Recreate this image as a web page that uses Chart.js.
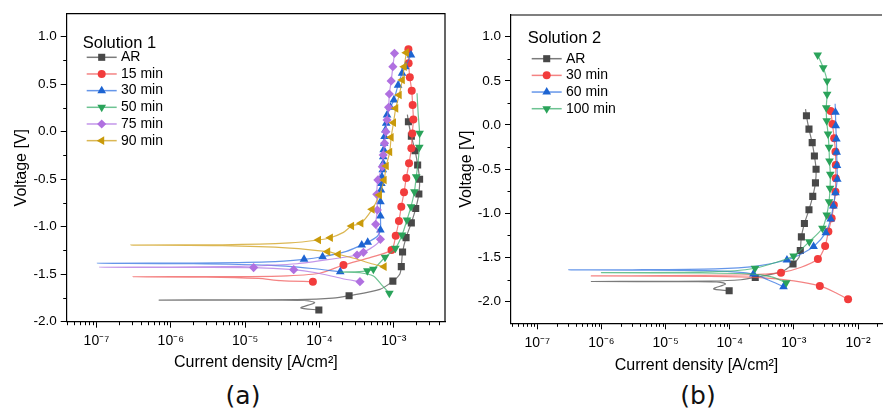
<!DOCTYPE html>
<html>
<head>
<meta charset="utf-8">
<title>Polarization curves</title>
<script src="https://cdn.jsdelivr.net/npm/chart.js"></script>
<style>
  html, body { margin: 0; padding: 0; background: #fff; }
  body { position: relative; width: 887px; height: 412px; overflow: hidden; }
  canvas { position: absolute; top: 0; }
  #chartA { left: 0; }
  #chartB { left: 445px; }
  .tag { position: absolute; top: 381px; width: 100px; text-align: center; font: 25px "DejaVu Sans", sans-serif; line-height: 30px; color: #111; }
</style>
</head>
<body>
<canvas id="chartA" width="450" height="380"></canvas>
<canvas id="chartB" width="442" height="380"></canvas>
<div class="tag" style="left:193px">(a)</div>
<div class="tag" style="left:648px">(b)</div>
<script>
// axis ticks
const xTicks = [1e-7, 1e-6, 1e-5, 1e-4, 1e-3, 1e-2];
const xTickLabels = ['10⁻⁷', '10⁻⁶', '10⁻⁵', '10⁻⁴', '10⁻³', '10⁻²'];
const yTicks = [-2, -1.5, -1, -0.5, 0, 0.5, 1];
const yTickLabels = ['-2.0', '-1.5', '-1.0', '-0.5', '0.0', '0.5', '1.0'];

const labels1 = ['AR', '15 min', '30 min', '50 min', '75 min', '90 min'];
const labels2 = ['AR', '30 min', '60 min', '100 min'];

// [current density A/cm2, voltage V, symbol shown]
// AR is the same as-received curve in both panels
const arRows = [
  [9.8e-5, -1.877, 1], [5.6e-5, -1.855, 0], [8.6e-5, -1.80, 0], [6.2e-5, -1.775, 0],
  [1.5e-5, -1.773, 0], [7e-7, -1.772, 0], [5e-6, -1.770, 0], [5e-5, -1.767, 0],
  [1.5e-4, -1.752, 0], [2.5e-4, -1.726, 1], [6.5e-4, -1.66, 0], [9.7e-4, -1.573, 1],
  [1.2e-3, -1.50, 0], [1.26e-3, -1.42, 1], [1.31e-3, -1.267, 1], [1.46e-3, -1.115, 1],
  [1.72e-3, -0.96, 1], [1.97e-3, -0.808, 1], [2.17e-3, -0.655, 1], [2.22e-3, -0.501, 1],
  [2.09e-3, -0.351, 1], [1.93e-3, -0.2, 1], [1.72e-3, -0.047, 1], [1.57e-3, 0.104, 1],
  [1.52e-3, 0.18, 0]
];

// Solution 1
const s1min15 = [
  [8.15e-5, -1.579, 1], [3e-5, -1.567, 0], [1.5e-5, -1.545, 0], [3e-6, -1.53, 0],
  [3.1e-7, -1.527, 0], [3e-6, -1.526, 0], [3e-5, -1.52, 0], [1e-4, -1.49, 0],
  [2.1e-4, -1.403, 1], [5e-4, -1.32, 0], [9.3e-4, -1.245, 1], [1.06e-3, -1.095, 1],
  [1.17e-3, -0.94, 1], [1.26e-3, -0.79, 1], [1.37e-3, -0.638, 1], [1.47e-3, -0.487, 1],
  [1.6e-3, -0.333, 1], [1.72e-3, -0.175, 1], [1.77e-3, -0.02, 1], [1.83e-3, 0.128, 1],
  [1.79e-3, 0.28, 1], [1.74e-3, 0.43, 1], [1.64e-3, 0.573, 1], [1.58e-3, 0.72, 1],
  [1.57e-3, 0.868, 1]
];
const s1min30 = [
  [1.9e-4, -1.474, 1], [8e-5, -1.44, 0], [2e-5, -1.405, 0], [2e-6, -1.39, 0],
  [1.03e-7, -1.385, 0], [2e-6, -1.382, 0], [2e-5, -1.37, 0], [6.2e-5, -1.343, 1],
  [1.1e-4, -1.316, 1], [2.3e-4, -1.26, 0], [3.7e-4, -1.193, 1], [4.45e-4, -1.165, 1],
  [6e-4, -1.1, 0], [6.6e-4, -1.035, 1], [6.6e-4, -0.887, 1], [6.6e-4, -0.737, 1],
  [6.7e-4, -0.614, 1], [6.8e-4, -0.545, 1], [6.9e-4, -0.474, 1], [7.1e-4, -0.4, 1],
  [7.2e-4, -0.333, 1], [7.2e-4, -0.263, 1], [7.3e-4, -0.19, 1], [7.4e-4, -0.122, 1],
  [7.5e-4, -0.05, 1], [7.7e-4, 0.018, 1], [7.9e-4, 0.09, 1], [8.1e-4, 0.176, 1],
  [9e-4, 0.257, 1], [1e-3, 0.334, 1], [1.14e-3, 0.49, 1], [1.29e-3, 0.614, 1],
  [1.43e-3, 0.684, 1], [1.7e-3, 0.807, 1], [1.75e-3, 0.84, 0]
];
const s1min50 = [
  [8.7e-4, -1.701, 1], [7e-4, -1.62, 0], [5.3e-4, -1.52, 0], [3.5e-4, -1.485, 0],
  [1.9e-4, -1.478, 0], [3e-4, -1.474, 0], [4.4e-4, -1.465, 1], [5.3e-4, -1.448, 1],
  [7.6e-4, -1.322, 1], [1.05e-3, -1.228, 1], [1.29e-3, -1.087, 1], [1.5e-3, -0.93, 1],
  [1.7e-3, -0.789, 1], [1.89e-3, -0.632, 1], [2.0e-3, -0.474, 1], [2.12e-3, -0.32, 0],
  [2.2e-3, -0.164, 1], [2.22e-3, -0.017, 1], [2.12e-3, 0.2, 0], [2.05e-3, 0.404, 0]
];
const s1min75 = [
  [3.5e-4, -1.579, 1], [2e-4, -1.545, 0], [9e-5, -1.485, 0], [4.5e-5, -1.452, 1],
  [1.3e-5, -1.43, 1], [1e-6, -1.428, 0], [1.1e-7, -1.427, 0], [1e-6, -1.425, 0],
  [1e-5, -1.415, 0], [5e-5, -1.39, 0], [1.5e-4, -1.34, 0], [3.2e-4, -1.298, 1],
  [3.9e-4, -1.27, 1], [5.5e-4, -1.2, 0], [6.6e-4, -1.133, 1], [6.1e-4, -1.05, 0],
  [5.7e-4, -0.975, 1], [6.0e-4, -0.824, 1], [5.9e-4, -0.659, 1], [6.1e-4, -0.508, 1],
  [7e-4, -0.368, 1], [7.2e-4, -0.245, 1], [7.5e-4, -0.122, 1], [7.8e-4, 0, 1],
  [8.1e-4, 0.123, 1], [8.5e-4, 0.257, 1], [8.7e-4, 0.397, 1], [9.2e-4, 0.534, 1],
  [9.7e-4, 0.684, 1], [1.02e-3, 0.825, 1]
];
const s1min90 = [
  [7.4e-4, -1.421, 1], [5e-4, -1.39, 0], [3e-4, -1.335, 0], [1.79e-4, -1.29, 1],
  [1.29e-4, -1.263, 1], [4e-5, -1.225, 0], [5e-6, -1.2, 0], [2.9e-7, -1.193, 0],
  [5e-6, -1.19, 0], [4e-5, -1.17, 0], [9.7e-5, -1.14, 1], [1.4e-4, -1.116, 1],
  [2.1e-4, -1.06, 0], [2.7e-4, -0.993, 1], [3.6e-4, -0.964, 1], [5.1e-4, -0.817, 1],
  [6.4e-4, -0.666, 1], [7.4e-4, -0.508, 1], [7.9e-4, -0.361, 1], [8.8e-4, -0.214, 1],
  [9.2e-4, -0.059, 1], [9.9e-4, 0.095, 1], [1.06e-3, 0.246, 1], [1.18e-3, 0.386, 1],
  [1.3e-3, 0.544, 1], [1.38e-3, 0.684, 1], [1.47e-3, 0.832, 1]
];

// Solution 2
const s2min30 = [
  [7.0e-3, -1.973, 1], [4.5e-3, -1.9, 0], [2.54e-3, -1.822, 1], [1e-3, -1.765, 0],
  [3e-4, -1.728, 0], [5e-5, -1.713, 0], [7e-7, -1.709, 0], [1e-5, -1.706, 0],
  [1.5e-4, -1.698, 0], [3.5e-4, -1.688, 0], [6.3e-4, -1.672, 1], [1.3e-3, -1.61, 0],
  [2.37e-3, -1.517, 1], [3.07e-3, -1.37, 1], [3.45e-3, -1.207, 1], [3.88e-3, -1.056, 1],
  [4.2e-3, -0.905, 1], [4.45e-3, -0.755, 1], [4.5e-3, -0.603, 1], [4.5e-3, -0.452, 1],
  [4.45e-3, -0.302, 1], [4.25e-3, -0.15, 1], [4.0e-3, 0.012, 1], [3.75e-3, 0.159, 1]
];
const s2min60 = [
  [6.9e-4, -1.83, 1], [4e-4, -1.755, 0], [2.34e-4, -1.687, 1], [6e-5, -1.652, 0],
  [3e-6, -1.643, 0], [3.1e-7, -1.641, 0], [3e-6, -1.639, 0], [6e-5, -1.628, 0],
  [2.5e-4, -1.6, 0], [7.8e-4, -1.528, 1], [1.3e-3, -1.46, 0], [2.03e-3, -1.377, 1],
  [3.15e-3, -1.219, 1], [3.75e-3, -1.064, 1], [4.12e-3, -0.917, 1], [4.45e-3, -0.766, 1],
  [4.75e-3, -0.614, 1], [4.7e-3, -0.46, 1], [4.65e-3, -0.309, 1], [4.6e-3, -0.158, 1],
  [4.5e-3, -0.008, 1], [4.45e-3, 0.144, 1], [4.4e-3, 0.24, 0]
];
const s2min100 = [
  [7.6e-4, -1.785, 1], [4.5e-4, -1.72, 0], [2e-4, -1.685, 0], [3e-5, -1.675, 0],
  [1e-6, -1.672, 0], [2e-5, -1.668, 0], [1.2e-4, -1.65, 0], [2.48e-4, -1.622, 1],
  [5e-4, -1.56, 0], [9.9e-4, -1.483, 1], [1.74e-3, -1.321, 1], [2.79e-3, -1.169, 1],
  [3.25e-3, -1.019, 1], [3.53e-3, -0.868, 1], [3.66e-3, -0.716, 1], [3.7e-3, -0.558, 1],
  [3.59e-3, -0.407, 1], [3.53e-3, -0.252, 1], [3.41e-3, -0.102, 1], [3.25e-3, 0.049, 1],
  [3.2e-3, 0.196, 1], [3.3e-3, 0.348, 1], [3.3e-3, 0.498, 1], [2.87e-3, 0.649, 1],
  [2.35e-3, 0.793, 1]
];

// symbol + line looks
const look = {
  gray:   { color: '#484848', line: 'rgba(90,90,90,0.8)',     shape: 'rect',     rot: 0,   r: 5.0 },
  red:    { color: '#f23c3c', line: 'rgba(240,90,90,0.75)',   shape: 'circle',   rot: 0,   r: 4.0 },
  blue:   { color: '#1d64d2', line: 'rgba(50,115,225,0.75)',  shape: 'triangle', rot: 0,   r: 5.0 },
  green:  { color: '#2aa35a', line: 'rgba(60,175,110,0.75)',  shape: 'triangle', rot: 180, r: 5.0 },
  purple: { color: '#b070e0', line: 'rgba(175,115,225,0.75)', shape: 'rectRot',  rot: 0,   r: 4.6 },
  gold:   { color: '#c99a0a', line: 'rgba(210,165,40,0.8)',   shape: 'triangle', rot: 270, r: 5.0 }
};

Chart.defaults.font.family = '"Liberation Sans", Arial, sans-serif';
Chart.defaults.color = '#000';

// frame (top / right) and minor ticks
const frame = {
  id: 'frame',
  afterDraw(chart, args, o) {
    const { ctx, chartArea: a, scales: { x, y } } = chart;
    ctx.save();
    ctx.strokeStyle = '#000';
    ctx.lineWidth = 1;
    ctx.beginPath();
    for (let e = -9; e <= -1; e++) {
      for (let k = 2; k <= 9; k++) {
        const v = k * Math.pow(10, e);
        if (v < x.min || v > x.max) continue;
        const px = Math.round(x.getPixelForValue(v)) + 0.5;
        ctx.moveTo(px, a.bottom);
        ctx.lineTo(px, a.bottom + 3.5);
      }
    }
    for (let v = -2.75; v <= 1.5; v += 0.5) {
      if (v < y.min || v > y.max) continue;
      const py = Math.round(y.getPixelForValue(v)) + 0.5;
      ctx.moveTo(a.left, py);
      ctx.lineTo(a.left - 3.5, py);
    }
    ctx.stroke();
    ctx.lineWidth = 1.2;
    ctx.beginPath();
    ctx.moveTo(a.left, a.top);
    ctx.lineTo(a.right, a.top);
    if (o.right) ctx.lineTo(a.right, a.bottom);
    ctx.stroke();
    ctx.restore();
  }
};

// legend inside the plot
const boxLegend = {
  id: 'boxLegend',
  afterDatasetsDraw(chart, args, o) {
    const { ctx, chartArea: a } = chart;
    ctx.save();
    ctx.textBaseline = 'middle';
    ctx.fillStyle = '#000';
    ctx.font = '16.5px "Liberation Sans", Arial, sans-serif';
    ctx.fillText(o.title, a.left + o.x, a.top + o.titleY);
    ctx.font = '14px "Liberation Sans", Arial, sans-serif';
    chart.data.datasets.forEach((d, i) => {
      const y = a.top + o.rowY + i * o.step;
      const x0 = a.left + o.lineX;
      ctx.strokeStyle = d.borderColor;
      ctx.lineWidth = 1.5;
      ctx.beginPath();
      ctx.moveTo(x0, y);
      ctx.lineTo(x0 + 30, y);
      ctx.stroke();
      ctx.fillStyle = d.pointBackgroundColor;
      Chart.helpers.drawPoint(ctx, { pointStyle: d.pointStyle, rotation: d.pointRotation, radius: d.symbolSize, borderWidth: 0 }, x0 + 15, y);
      ctx.fillStyle = '#000';
      ctx.fillText(d.label, a.left + o.textX, y);
    });
    ctx.restore();
  }
};

function makeSet(rows, label, lk, i, n) {
  return {
    label: label,
    data: rows.map(r => ({ x: r[0], y: r[1] })),
    showLine: true,
    borderColor: lk.line,
    borderWidth: 1.2,
    tension: 0.25,
    pointStyle: lk.shape,
    pointRotation: lk.rot,
    pointRadius: rows.map(r => r[2] ? lk.r : 0),
    pointBackgroundColor: lk.color,
    pointBorderWidth: 0,
    symbolSize: lk.r,
    order: n - i
  };
}

function drawPanel(id, series, labels, looks, box) {
  const n = series.length;
  new Chart(document.getElementById(id), {
    type: 'scatter',
    data: { datasets: series.map((rows, i) => makeSet(rows, labels[i], looks[i], i, n)) },
    options: {
      responsive: false,
      animation: false,
      events: [],
      layout: { padding: { left: 0, top: box.top, right: box.right, bottom: 0 } },
      plugins: {
        legend: { display: false },
        tooltip: { enabled: false },
        boxLegend: box.legend,
        frame: { right: box.frameRight }
      },
      scales: {
        x: {
          type: 'logarithmic',
          min: box.xMin,
          max: box.xMax,
          afterBuildTicks: s => { s.ticks = xTicks.slice(0, box.nx).map(v => ({ value: v, major: true })); },
          afterFit: s => { s.height = box.xHeight; },
          ticks: { autoSkip: false, maxRotation: 0, padding: 5, font: { size: 14 }, color: '#000', callback: (v, i) => xTickLabels[i] },
          grid: { drawOnChartArea: false, tickLength: 6, color: '#000', lineWidth: 1 },
          border: { display: true, color: '#000', width: 1.2 },
          title: { display: true, text: 'Current density [A/cm²]', font: { size: 16 }, color: '#000', padding: { top: 4, bottom: box.xTitlePad } }
        },
        y: {
          min: box.yMin,
          max: box.yMax,
          afterBuildTicks: s => { s.ticks = yTicks.map(v => ({ value: v })); },
          afterFit: s => { s.width = box.yWidth; },
          ticks: { padding: 4, font: { size: 13.5 }, color: '#000', callback: (v, i) => yTickLabels[i] },
          grid: { drawOnChartArea: false, tickLength: 6, color: '#000', lineWidth: 1 },
          border: { display: true, color: '#000', width: 1.2 },
          title: { display: true, text: 'Voltage [V]', font: { size: 16 }, color: '#000', padding: { top: 12, bottom: 0 } }
        }
      }
    },
    plugins: [frame, boxLegend]
  });
}

drawPanel('chartA',
  [arRows, s1min15, s1min30, s1min50, s1min75, s1min90], labels1,
  [look.gray, look.red, look.blue, look.green, look.purple, look.gold],
  {
    top: 13.7, right: 1.7, xHeight: 58.3, yWidth: 66.7, xTitlePad: 7.4,
    xMin: Math.pow(10, -7.4), xMax: Math.pow(10, -2.312), nx: 5,
    yMin: -2.0, yMax: 1.242, frameRight: true,
    legend: { title: 'Solution 1', x: 16, titleY: 29.6, rowY: 43.6, step: 16.67, lineX: 20, textX: 54.3 }
  });

drawPanel('chartB',
  [arRows, s2min30, s2min60, s2min100], labels2,
  [look.gray, look.red, look.blue, look.green],
  {
    top: 15, right: 0, xHeight: 56.7, yWidth: 66, xTitlePad: 4.4,
    xMin: Math.pow(10, -7.41), xMax: Math.pow(10, -1.626), nx: 6,
    yMin: -2.245, yMax: 1.245, frameRight: false,
    legend: { title: 'Solution 2', x: 16.7, titleY: 23.3, rowY: 43.7, step: 16.67, lineX: 20.7, textX: 55 }
  });
</script>
</body>
</html>
